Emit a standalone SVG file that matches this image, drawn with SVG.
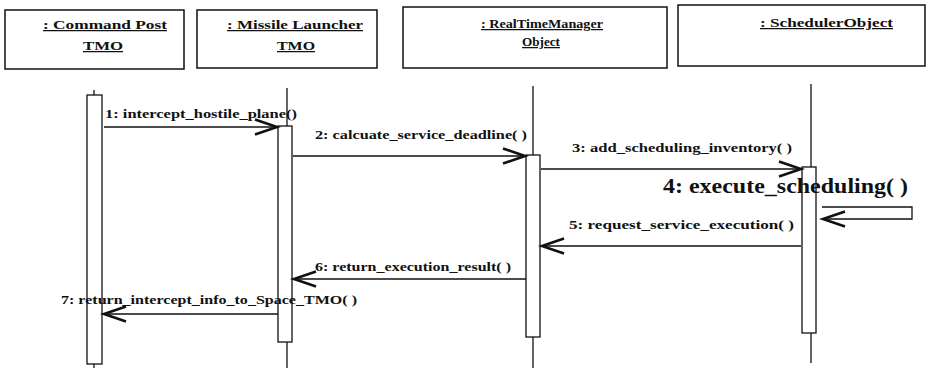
<svg xmlns="http://www.w3.org/2000/svg" width="939" height="368" viewBox="0 0 939 368">
  <style>
    text { font-family: 'Liberation Serif', 'DejaVu Serif', serif; font-weight: bold; fill: #111; }
    .box { fill: #ffffff; stroke: #111; stroke-width: 1.5; }
    .title { font-size: 12.5px; text-decoration: underline; }
    .life { stroke: #111; stroke-width: 1.3; fill: none; }
    .act { fill: #ffffff; stroke: #111; stroke-width: 1.3; }
    .msg { stroke: #111; stroke-width: 1.3; fill: none; marker-end: url(#open); }
    .lbl { font-size: 13px; }
    .big { font-size: 21px; }
  </style>
  <defs>
    <marker id="open" markerUnits="userSpaceOnUse" markerWidth="30" markerHeight="20" viewBox="-24 -10 26 20" refX="0" refY="0" orient="auto">
      <path d="M-22,-7.5 L0,0 L-22,7.5" fill="none" stroke="#111" stroke-width="2.6" stroke-linejoin="miter"/>
    </marker>
  </defs>

  <rect width="939" height="368" fill="#ffffff"/>

  <!-- object: Command Post TMO -->
  <g id="command-post" font-family="Liberation Serif, serif">
    <rect class="box" x="5" y="10" width="179" height="59"/>
    <text class="title" x="43" y="29" textLength="124" lengthAdjust="spacingAndGlyphs">: Command Post</text>
    <text class="title" x="83" y="50" textLength="40" lengthAdjust="spacingAndGlyphs">TMO</text>
    <line class="life" x1="94" y1="90" x2="94" y2="368"/>
    <rect class="act" x="87" y="95" width="15" height="269"/>
  </g>

  <!-- object: Missile Launcher TMO -->
  <g id="missile-launcher">
    <rect class="box" x="197" y="10" width="180" height="58"/>
    <text class="title" x="227" y="29" textLength="136" lengthAdjust="spacingAndGlyphs">: Missile Launcher</text>
    <text class="title" x="277" y="50" textLength="38" lengthAdjust="spacingAndGlyphs">TMO</text>
    <line class="life" x1="287" y1="88" x2="287" y2="368"/>
    <rect class="act" x="278" y="126" width="14" height="216"/>
  </g>

  <!-- object: RealTimeManager Object -->
  <g id="realtime-manager">
    <rect class="box" x="403" y="7" width="264" height="61"/>
    <text class="title" x="481" y="28" textLength="122" lengthAdjust="spacingAndGlyphs">: RealTimeManager</text>
    <text class="title" x="522" y="46" textLength="38" lengthAdjust="spacingAndGlyphs">Object</text>
    <line class="life" x1="533" y1="86" x2="533" y2="368"/>
    <rect class="act" x="526" y="155" width="14" height="182"/>
  </g>

  <!-- object: SchedulerObject -->
  <g id="scheduler-object">
    <rect class="box" x="678" y="5" width="247" height="61"/>
    <text class="title" x="760" y="27" textLength="133" lengthAdjust="spacingAndGlyphs">: SchedulerObject</text>
    <line class="life" x1="811" y1="84" x2="811" y2="363"/>
    <rect class="act" x="802" y="167" width="14" height="166"/>
  </g>

  <!-- messages -->
  <g id="messages">
    <line class="msg" x1="104" y1="127" x2="277" y2="127"/>
    <text class="lbl" x="105" y="118" textLength="192" lengthAdjust="spacingAndGlyphs">1: intercept_hostile_plane()</text>

    <line class="msg" x1="293" y1="156" x2="525" y2="156"/>
    <text class="lbl" x="315" y="139" textLength="212" lengthAdjust="spacingAndGlyphs">2: calcuate_service_deadline( )</text>

    <line class="msg" x1="541" y1="169" x2="801" y2="169"/>
    <text class="lbl" x="572" y="152" textLength="220" lengthAdjust="spacingAndGlyphs">3: add_scheduling_inventory( )</text>

    <path class="msg" d="M822,207 H912 V219 H823"/>
    <text class="big" x="663" y="193" textLength="245" lengthAdjust="spacingAndGlyphs">4: execute_scheduling( )</text>

    <line class="msg" x1="801" y1="246" x2="542" y2="246"/>
    <text class="lbl" x="569" y="229" textLength="225" lengthAdjust="spacingAndGlyphs">5: request_service_execution( )</text>

    <line class="msg" x1="526" y1="279" x2="294" y2="279"/>
    <text class="lbl" x="315" y="271" textLength="196" lengthAdjust="spacingAndGlyphs">6: return_execution_result( )</text>

    <line class="msg" x1="278" y1="314" x2="104" y2="314"/>
    <text class="lbl" x="61" y="304" textLength="296" lengthAdjust="spacingAndGlyphs">7: return_intercept_info_to_Space_TMO( )</text>
  </g>
</svg>
